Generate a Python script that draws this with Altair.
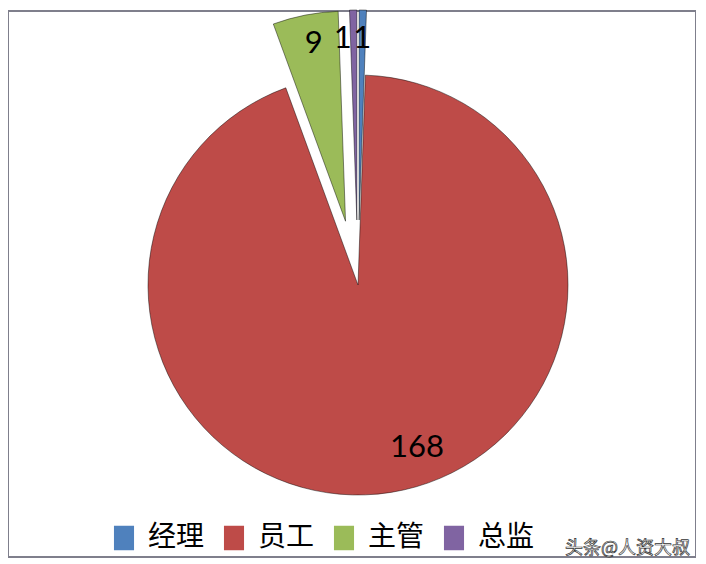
import pandas as pd
import altair as alt

# slice data, clockwise from 12 o'clock (Excel order)
categories = ["经理", "员工", "主管", "总监"]
values = [1, 168, 9, 1]
colors = ["#4F81BD", "#BE4B48", "#9BBB59", "#8064A2"]

total = sum(values)
W, H = 688, 546
CX, CY = 350, 274          # pie centre in view pixels
R = 210                    # pie radius
EXPLODE = 65               # pull-out distance of the small slices

df = pd.DataFrame({"cat": categories, "value": values, "idx": range(len(values))})

base = alt.Chart(df).transform_window(
    cum="sum(value)", sort=[alt.SortField("idx")]
).transform_calculate(
    start="datum.cum - datum.value",
    end="datum.cum",
    mid=f"(datum.cum - datum.value / 2) / {total} * 2 * PI",
    ex=f"datum.cat == '员工' ? 0 : {EXPLODE}",
    lr="datum.cat == '员工' ? 165 : 181",
).transform_calculate(
    cx=f"{CX} + datum.ex * sin(datum.mid)",
    cy=f"{CY} - datum.ex * cos(datum.mid)",
).transform_calculate(
    # Excel nudges a couple of labels sideways
    lx="datum.cx + datum.lr * sin(datum.mid)"
       " + (datum.cat == '员工' ? 33 : datum.cat == '总监' ? -11 : datum.cat == '主管' ? 3 : 0)",
    ly="datum.cy - datum.lr * cos(datum.mid)",
)

pie = base.mark_arc(
    radius=R, stroke="black", strokeOpacity=0.45, strokeWidth=1
).encode(
    theta=alt.Theta("start:Q", stack=None,
                    scale=alt.Scale(domain=[0, total], range=[0, 6.283185307179586])),
    theta2="end:Q",
    x=alt.X("cx:Q", scale=None),
    y=alt.Y("cy:Q", scale=None),
    color=alt.Color(
        "cat:N",
        scale=alt.Scale(domain=categories, range=colors),
        legend=alt.Legend(
            title=None, orient="none", direction="horizontal", columns=4,
            legendX=102, legendY=513,
            symbolType="M-0.82,-1L0.82,-1L0.82,1L-0.82,1Z", symbolSize=600,
            symbolStrokeWidth=0, symbolOpacity=1,
            labelFont="Noto Sans CJK SC", labelFontSize=28,
            labelColor="black", labelOffset=10, columnPadding=15, labelLimit=0,
        ),
    ),
)

labels = base.mark_text(
    font="Lato", fontSize=31, color="black", baseline="middle", align="center"
).encode(
    x=alt.X("lx:Q", scale=None),
    y=alt.Y("ly:Q", scale=None),
    text="value:Q",
)

mark_df = pd.DataFrame({"t": ["头条@人资大叔"]})
watermark = alt.Chart(mark_df).mark_text(
    font="Noto Sans CJK SC", fontSize=18, fill="white", stroke="#333",
    strokeWidth=0.7, align="right", baseline="middle"
).encode(x=alt.value(682), y=alt.value(538), text="t:N")

chart = alt.layer(pie, labels, watermark).properties(
    width=W, height=H, padding=0
).configure_view(
    stroke="#7f7f8c", strokeWidth=2
)

chart.save("out.html", embed_options={"renderer": "svg", "actions": False})
